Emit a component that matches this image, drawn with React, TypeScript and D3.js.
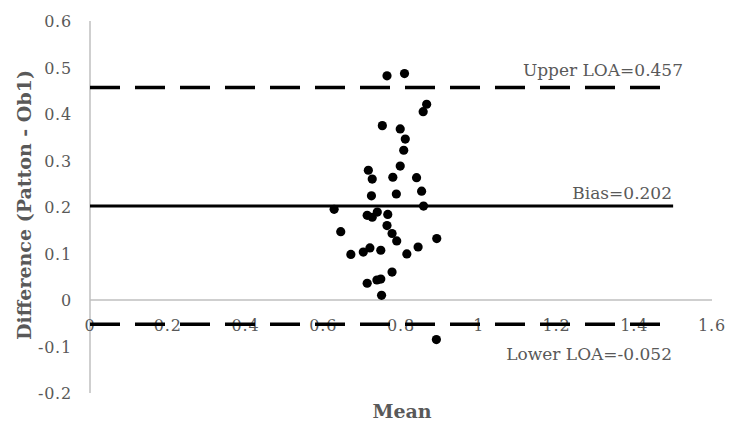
import React, { useRef, useEffect } from "react";
import * as d3 from "d3";

// mean of the two methods (x) and their difference (y)
const meanValues = [
    0.764, 0.809, 0.866, 0.857, 0.752, 0.798, 0.811, 0.807, 0.798, 0.716,
    0.726, 0.779, 0.84, 0.724, 0.788, 0.853, 0.858, 0.628, 0.713, 0.726,
    0.739, 0.766, 0.764, 0.777, 0.789, 0.645, 0.892, 0.671, 0.703, 0.72,
    0.748, 0.815, 0.844, 0.777, 0.713, 0.738, 0.748, 0.75, 0.891,
];
const diffValues = [
    0.482, 0.487, 0.421, 0.405, 0.375, 0.368, 0.346, 0.322, 0.288, 0.279,
    0.26, 0.264, 0.263, 0.224, 0.228, 0.234, 0.202, 0.195, 0.182, 0.178,
    0.189, 0.184, 0.16, 0.143, 0.127, 0.147, 0.132, 0.098, 0.103, 0.112,
    0.107, 0.099, 0.114, 0.06, 0.036, 0.043, 0.045, 0.01, -0.085,
];

const bias = 0.202;
const upperLOA = 0.457;
const lowerLOA = -0.052;
const lineEnd = 1.5;

const xTicks = [0, 0.2, 0.4, 0.6, 0.8, 1, 1.2, 1.4, 1.6];
const yTicks = [-0.2, -0.1, 0, 0.1, 0.2, 0.3, 0.4, 0.5, 0.6];

function BlandAltman() {
    const ref = useRef(null);

    useEffect(() => {
        draw();
    }, []);

    const draw = () => {
        const svg = d3.select(ref.current);
        svg.selectAll("*").remove();

        const font = "'DejaVu Serif', serif";
        const textColor = "#595959";
        const gridColor = "#bfbfbf";
        const fmt = (d) => String(+d.toFixed(1)); // keep plain hyphen for negatives

        let x = d3.scaleLinear().domain([0, 1.6]).range([90, 712]);
        let y = d3.scaleLinear().domain([-0.2, 0.6]).range([393, 21]);

        // axis lines
        svg.append("line")
            .attr("x1", x(0))
            .attr("x2", x(0))
            .attr("y1", y(0.6))
            .attr("y2", y(-0.2))
            .attr("stroke", gridColor)
            .attr("stroke-width", 1.5);
        svg.append("line")
            .attr("x1", x(0))
            .attr("x2", x(1.6))
            .attr("y1", y(0))
            .attr("y2", y(0))
            .attr("stroke", gridColor)
            .attr("stroke-width", 1.5);

        // tick labels
        svg.append("g")
            .selectAll("text")
            .data(yTicks)
            .enter()
            .append("text")
            .text(fmt)
            .attr("x", 72)
            .attr("y", (d) => y(d) + 6)
            .attr("text-anchor", "end")
            .attr("font-family", font)
            .attr("font-size", "16px")
            .attr("letter-spacing", "0.8px")
            .attr("fill", textColor);

        svg.append("g")
            .selectAll("text")
            .data(xTicks)
            .enter()
            .append("text")
            .text(fmt)
            .attr("x", (d) => x(d))
            .attr("y", y(0) + 31)
            .attr("text-anchor", "middle")
            .attr("font-family", font)
            .attr("font-size", "16px")
            .attr("letter-spacing", "0.8px")
            .attr("fill", textColor);

        // bias and limits of agreement
        const refLines = [
            { v: upperLOA, dash: "30,15" },
            { v: bias, dash: null },
            { v: lowerLOA, dash: "30,15" },
        ];
        svg.append("g")
            .selectAll("line")
            .data(refLines)
            .enter()
            .append("line")
            .attr("x1", x(0))
            .attr("x2", x(lineEnd))
            .attr("y1", (d) => y(d.v))
            .attr("y2", (d) => y(d.v))
            .attr("stroke", "black")
            .attr("stroke-width", (d) => (d.dash ? 3.5 : 3))
            .attr("stroke-dasharray", (d) => d.dash);

        // points
        svg.append("g")
            .selectAll("circle")
            .data(meanValues)
            .enter()
            .append("circle")
            .attr("cx", (d) => x(d))
            .attr("cy", (d, i) => y(diffValues[i]))
            .attr("r", 4.6)
            .attr("fill", "black");

        // annotations
        const labels = [
            { t: "Upper LOA=" + upperLOA, v: upperLOA, dy: -11, xe: 683 },
            { t: "Bias=" + bias, v: bias, dy: -7, xe: 672 },
            { t: "Lower LOA=" + lowerLOA, v: lowerLOA, dy: 36, xe: 672 },
        ];
        svg.append("g")
            .selectAll("text")
            .data(labels)
            .enter()
            .append("text")
            .text((d) => d.t)
            .attr("x", (d) => d.xe)
            .attr("y", (d) => y(d.v) + d.dy)
            .attr("text-anchor", "end")
            .attr("font-family", font)
            .attr("font-size", "17px")
            .attr("fill", textColor);

        // axis titles
        svg.append("text")
            .text("Mean")
            .attr("x", 402)
            .attr("y", 418)
            .attr("text-anchor", "middle")
            .attr("font-family", font)
            .attr("font-weight", "bold")
            .attr("font-size", "19px")
            .attr("fill", textColor);

        svg.append("text")
            .text("Difference (Patton - Ob1)")
            .attr("transform", "translate(31," + 205 + ") rotate(-90)")
            .attr("text-anchor", "middle")
            .attr("font-family", font)
            .attr("font-weight", "bold")
            .attr("font-size", "19px")
            .attr("fill", textColor);
    };

    return (
        <svg
            ref={ref}
            width={730}
            height={426}
            style={{ position: "absolute", left: 0, top: 0, background: "white" }}
        ></svg>
    );
}

export default function App() {
    return <BlandAltman />;
}
